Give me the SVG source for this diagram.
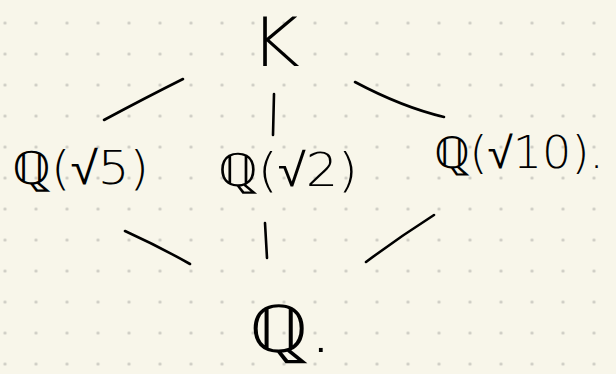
<svg xmlns="http://www.w3.org/2000/svg" width="616" height="374" viewBox="0 0 616 374">
<defs>
<pattern id="dots" patternUnits="userSpaceOnUse" x="-10.5" y="7.5" width="31" height="31">
<circle cx="15.5" cy="15.5" r="1.6" fill="#cbcac2"/>
</pattern>
<style>
.lbl{font-family:"DejaVu Sans","Liberation Sans",sans-serif;font-weight:200;fill:#000}
.edge{fill:none;stroke:#000;stroke-width:2.6;stroke-linecap:round}
</style>
</defs>
<rect width="616" height="374" fill="#f8f6ea"/>
<rect width="616" height="374" fill="url(#dots)"/>
<g id="connectors">
<path class="edge" d="M183,79 Q145,98 104,120"/>
<path class="edge" d="M274,94 L273,135"/>
<path class="edge" d="M355,82 Q402,107 444,117"/>
<path class="edge" d="M125,231 Q160,247 190,264"/>
<path class="edge" d="M265,223 L267,258"/>
<path class="edge" d="M434,215 Q398,238 366,262"/>
</g>
<g id="K"><text class="lbl" x="250" y="66" font-size="68" textLength="50" lengthAdjust="spacingAndGlyphs">K</text></g>
<g id="Qsqrt5"><text class="lbl" x="12" y="184" font-size="46" textLength="137" lengthAdjust="spacingAndGlyphs">ℚ(√5)</text></g>
<g id="Qsqrt2"><text class="lbl" x="218" y="186" font-size="46" textLength="140" lengthAdjust="spacingAndGlyphs">ℚ(√2)</text></g>
<g id="Qsqrt10"><text class="lbl" x="434" y="168" font-size="44" textLength="170" lengthAdjust="spacingAndGlyphs">ℚ(√10).</text></g>
<g id="Q"><text class="lbl" x="249" y="352" font-size="66" textLength="84" lengthAdjust="spacingAndGlyphs">ℚ.</text></g>
</svg>
